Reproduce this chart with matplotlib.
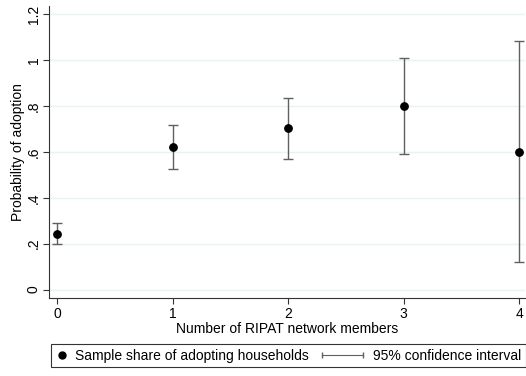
import matplotlib.pyplot as plt
from matplotlib.lines import Line2D
from matplotlib.legend_handler import HandlerLine2D

plt.rcParams['font.family'] = ['Liberation Sans', 'DejaVu Sans']

# number of RIPAT network members
members = [0, 1, 2, 3, 4]
share = [0.244, 0.622, 0.703, 0.800, 0.600]
ci_low = [0.199, 0.525, 0.570, 0.590, 0.119]
ci_high = [0.289, 0.719, 0.834, 1.011, 1.081]

yticks = [0, 0.2, 0.4, 0.6, 0.8, 1.0, 1.2]
ytick_labels = ['0', '.2', '.4', '.6', '.8', '1', '1.2']


class CIHandler(HandlerLine2D):
    # longer line for the CI entry, drawn to the left into the column gap
    def create_artists(self, legend, orig_handle, xdescent, ydescent,
                       width, height, fontsize, trans):
        extra = 2.6 * fontsize
        return super().create_artists(legend, orig_handle, xdescent + extra,
                                      ydescent, width + extra, height,
                                      fontsize, trans)


fig = plt.figure(figsize=(5.26, 3.76), dpi=100)
ax = fig.add_axes([0.093, 0.207, 0.905, 0.778])

err_lo = [s - l for s, l in zip(share, ci_low)]
err_hi = [h - s for s, h in zip(share, ci_high)]
ax.errorbar(members, share, yerr=[err_lo, err_hi], fmt='none',
            ecolor='#606060', elinewidth=1.0, capsize=3.5, capthick=1.0, zorder=2)
ax.plot(members, share, 'o', color='black', markersize=5.3, zorder=3)

ax.set_xlim(-0.07, 4.05)
ax.set_ylim(-0.0375, 1.237)
ax.set_xticks(members)
ax.set_yticks(yticks)
ax.set_yticklabels(ytick_labels, rotation=90, va='center')
ax.grid(axis='y', color='#eaf2f3', linewidth=1)
ax.set_axisbelow(True)
for s in ['top', 'right']:
    ax.spines[s].set_visible(False)
for s in ['left', 'bottom']:
    ax.spines[s].set_color('#333333')
ax.tick_params(labelsize=10, length=4, color='#333333', pad=2)
ax.set_xlabel('Number of RIPAT network members', fontsize=10, labelpad=1)
ax.set_ylabel('Probability of adoption', fontsize=10, labelpad=1)

h_dot = Line2D([], [], marker='o', color='black', linestyle='none', markersize=5)
h_ci = Line2D([], [], marker='|', color='#606060', linewidth=0.8, markersize=4)
leg = fig.legend([h_dot, h_ci],
                 ['Sample share of adopting households', '95% confidence interval'],
                 handler_map={h_dot: HandlerLine2D(numpoints=1),
                              h_ci: CIHandler(numpoints=2)},
                 loc='center', bbox_to_anchor=(0.5485, 0.0545), ncol=2, fontsize=10,
                 frameon=True, fancybox=False, edgecolor='black', handlelength=0.9,
                 columnspacing=3.3, handletextpad=0.45, borderpad=0.35,
                 borderaxespad=0)
leg.get_frame().set_linewidth(0.8)

fig.savefig('out.png', dpi=100)
